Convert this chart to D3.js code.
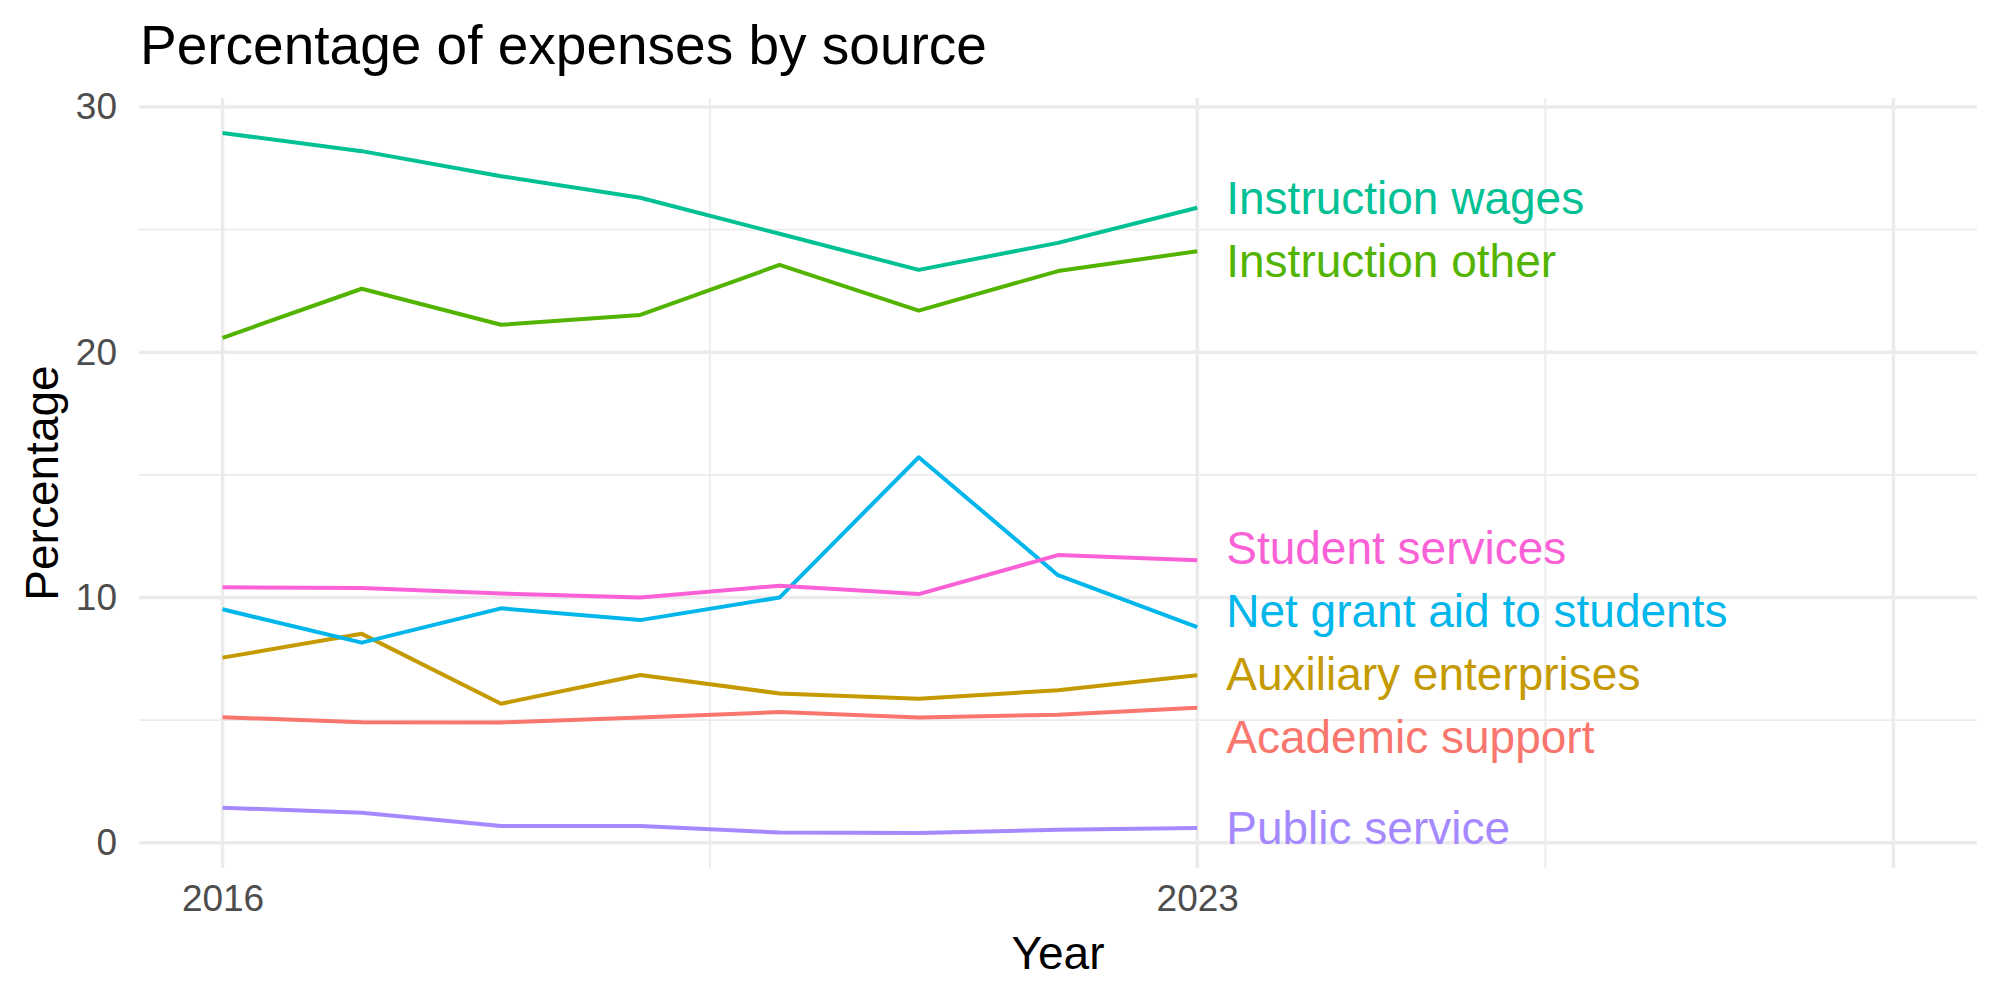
<!DOCTYPE html>
<html>
<head>
<meta charset="utf-8">
<script src="https://cdn.jsdelivr.net/npm/d3@7"></script>
<style>
  body { margin: 0; background: #fff; }
  text { font-family: "Liberation Sans", Arial, Helvetica, sans-serif; }
</style>
</head>
<body>
<div id="container"></div>
<script>
const years = [2016, 2017, 2018, 2019, 2020, 2021, 2022, 2023];

const academicSupport = [5.12, 4.92, 4.91, 5.11, 5.33, 5.11, 5.22, 5.51];
const auxiliaryEnterprises = [7.55, 8.52, 5.67, 6.84, 6.09, 5.87, 6.22, 6.83];
const instructionOther = [20.59, 22.59, 21.12, 21.52, 23.56, 21.70, 23.31, 24.12];
const instructionWages = [28.94, 28.20, 27.18, 26.30, 24.83, 23.36, 24.46, 25.89];
const netGrantAid = [9.52, 8.16, 9.56, 9.08, 10.00, 15.72, 10.91, 8.79];
const publicService = [1.43, 1.23, 0.69, 0.69, 0.42, 0.40, 0.53, 0.60];
const studentServices = [10.42, 10.39, 10.16, 10.00, 10.48, 10.14, 11.73, 11.52];

const seriesNames = ["Academic support", "Auxiliary enterprises", "Instruction other",
  "Instruction wages", "Net grant aid to students", "Public service", "Student services"];
const seriesValues = [academicSupport, auxiliaryEnterprises, instructionOther,
  instructionWages, netGrantAid, publicService, studentServices];
const seriesColors = ["#F8766D", "#C49A00", "#53B400", "#00C094", "#00B6EB", "#A58AFF", "#FB61D7"];

const xTicks = [2016, 2023, 2028];
const xTickLabels = ["2016", "2023", ""];
const xMinor = [2019.5, 2025.5];
const yTicks = [0, 10, 20, 30];
const yMinor = [5, 15, 25];
const xLimits = [2016, 2028];

const width = 2000, height = 1000;
const panel = { left: 139, right: 1977, top: 98, bottom: 868 };

const data = seriesNames.map((name, i) => ({
  name: name,
  color: seriesColors[i],
  values: years.map((y, j) => ({ year: y, value: seriesValues[i][j] }))
}));

// ggplot-style 5% expansion
const allVals = seriesValues.flat();
const yLo = d3.min(allVals), yHi = d3.max(allVals);
const yPad = (yHi - yLo) * 0.05;
const xPad = (xLimits[1] - xLimits[0]) * 0.05;

const xScale = d3.scaleLinear()
  .domain([xLimits[0] - xPad, xLimits[1] + xPad])
  .range([panel.left, panel.right]);

const yScale = d3.scaleLinear()
  .domain([yLo - yPad, yHi + yPad])
  .range([panel.bottom, panel.top]);

const svg = d3.select('#container').append('svg')
  .attr('width', width)
  .attr('height', height);

const grid = svg.append('g').attr('stroke', '#EBEBEB');

grid.selectAll('.ymin').data(yMinor).enter().append('line')
  .attr('x1', panel.left).attr('x2', panel.right)
  .attr('y1', d => yScale(d)).attr('y2', d => yScale(d))
  .attr('stroke-width', 1.7);

grid.selectAll('.xmin').data(xMinor).enter().append('line')
  .attr('y1', panel.top).attr('y2', panel.bottom)
  .attr('x1', d => xScale(d)).attr('x2', d => xScale(d))
  .attr('stroke-width', 1.7);

grid.selectAll('.ymaj').data(yTicks).enter().append('line')
  .attr('x1', panel.left).attr('x2', panel.right)
  .attr('y1', d => yScale(d)).attr('y2', d => yScale(d))
  .attr('stroke-width', 3.4);

grid.selectAll('.xmaj').data(xTicks).enter().append('line')
  .attr('y1', panel.top).attr('y2', panel.bottom)
  .attr('x1', d => xScale(d)).attr('x2', d => xScale(d))
  .attr('stroke-width', 3.4);

// axes (no domain line, no ticks)
const yAxis = svg.append('g')
  .attr('transform', `translate(${panel.left}, 0)`)
  .call(d3.axisLeft(yScale).tickValues(yTicks).tickSize(0).tickPadding(22));

const xAxis = svg.append('g')
  .attr('transform', `translate(0, ${panel.bottom})`)
  .call(d3.axisBottom(xScale).tickValues(xTicks)
    .tickFormat((d, i) => xTickLabels[i]).tickSize(0).tickPadding(17));

[yAxis, xAxis].forEach(ax => {
  ax.select('.domain').remove();
  ax.selectAll('text')
    .attr('fill', '#4D4D4D')
    .style('font-family', '"Liberation Sans", Arial, sans-serif')
    .style('font-size', '37px');
});

// lines
const line = d3.line()
  .x(d => xScale(d.year))
  .y(d => yScale(d.value));

svg.append('g').selectAll('path')
  .data(data)
  .enter()
  .append('path')
  .attr('d', d => line(d.values))
  .attr('fill', 'none')
  .attr('stroke', d => d.color)
  .attr('stroke-width', 4)
  .attr('stroke-linejoin', 'round');

// end labels, pushed apart so they don't overlap
const gap = 63;
let labels = data.map(d => ({
  name: d.name,
  color: d.color,
  target: yScale(d.values[d.values.length - 1].value)
})).sort((a, b) => a.target - b.target);

let groups = labels.map(l => ({ items: [l], center: l.target }));
let merged = true;
while (merged) {
  merged = false;
  for (let i = 0; i < groups.length - 1; i++) {
    const a = groups[i], b = groups[i + 1];
    const aBottom = a.center + (a.items.length - 1) * gap / 2;
    const bTop = b.center - (b.items.length - 1) * gap / 2;
    if (bTop - aBottom < gap) {
      const items = a.items.concat(b.items);
      groups.splice(i, 2, { items: items, center: d3.mean(items, l => l.target) });
      merged = true;
      break;
    }
  }
}
groups.forEach(g => {
  g.items.forEach((l, k) => {
    l.y = g.center + (k - (g.items.length - 1) / 2) * gap;
  });
});

svg.append('g').selectAll('text')
  .data(labels)
  .enter()
  .append('text')
  .attr('x', xScale(years[years.length - 1]) + 29)
  .attr('y', d => d.y)
  .attr('dy', '0.35em')
  .attr('fill', d => d.color)
  .style('font-size', '46px')
  .text(d => d.name);

// titles
svg.append('text')
  .attr('x', panel.left + 1)
  .attr('y', 64)
  .style('font-size', '55px')
  .attr('fill', '#000')
  .text('Percentage of expenses by source');

svg.append('text')
  .attr('x', (panel.left + panel.right) / 2)
  .attr('y', 969)
  .attr('text-anchor', 'middle')
  .style('font-size', '46px')
  .attr('fill', '#000')
  .text('Year');

svg.append('text')
  .attr('transform', `translate(58, ${(panel.top + panel.bottom) / 2}) rotate(-90)`)
  .attr('text-anchor', 'middle')
  .style('font-size', '46px')
  .attr('fill', '#000')
  .text('Percentage');
</script>
</body>
</html>
